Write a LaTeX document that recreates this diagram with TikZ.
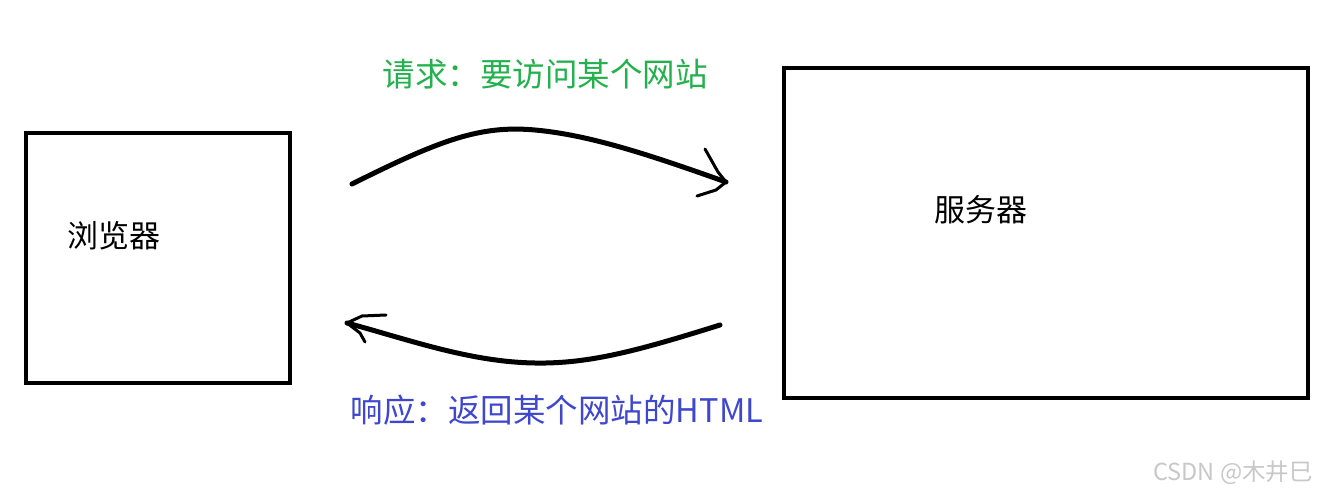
\documentclass[tikz,border=0pt]{standalone}
\usepackage{fontspec}
\setmainfont{Noto Sans CJK SC}
\newfontfamily\cjk{Noto Sans CJK SC}
\definecolor{paintgreen}{HTML}{22B14C}
\definecolor{paintblue}{HTML}{3F48CC}
\definecolor{wmgrey}{HTML}{C8C8C8}
\begin{document}
\begin{tikzpicture}[x=1pt,y=-1pt,
  box/.style={draw=black,line width=4pt,inner sep=0pt},
  flow/.style={draw=black,line width=5pt,line cap=round,line join=round},
  lbl/.style={inner sep=0pt,font=\cjk\fontsize{31}{31}\selectfont},
  msg/.style={inner sep=0pt,font=\cjk\fontsize{32.5}{32.5}\selectfont}]
\useasboundingbox[fill=white] (0,0) rectangle (1325,497);
\node[box,minimum width=264pt,minimum height=250pt] (browser) at (158,258) {};
\node[box,minimum width=524pt,minimum height=330pt] (server) at (1046,233) {};
\node[lbl] (browserlbl) at (114,236) {浏览器};
\node[lbl] (serverlbl) at (981,210) {服务器};
\node[msg,text=paintgreen] (req) at (545,74) {请求：要访问某个网站};
\node[msg,text=paintblue] (resp) at (557,410) {响应：返回某个网站的HTML};
\node[inner sep=0pt,text=wmgrey,font=\cjk\fontsize{23.5}{23.5}\selectfont] (wm) at (1233,473) {CSDN @木井巳};
% upper arrow
\coordinate (rs) at (352,184);
\coordinate (re) at (726,182);
\draw[flow] (rs) .. controls (440,140) and (480,125) .. (535,130) .. controls (590,135) and (650,155) .. (re);
\draw[flow,line width=3pt] (705,149) -- (718,172) -- (re) -- (716,190) -- (697,196);
% lower arrow
\coordinate (ss) at (720,325);
\coordinate (se) at (347,323);
\draw[flow] (ss) .. controls (640,350) and (590,364) .. (535,363) .. controls (470,362) and (410,340) .. (se);
\draw[flow,line width=3pt] (386,315) -- (362,316) -- (se) -- (360,333) -- (365,342);
\end{tikzpicture}
\end{document}
